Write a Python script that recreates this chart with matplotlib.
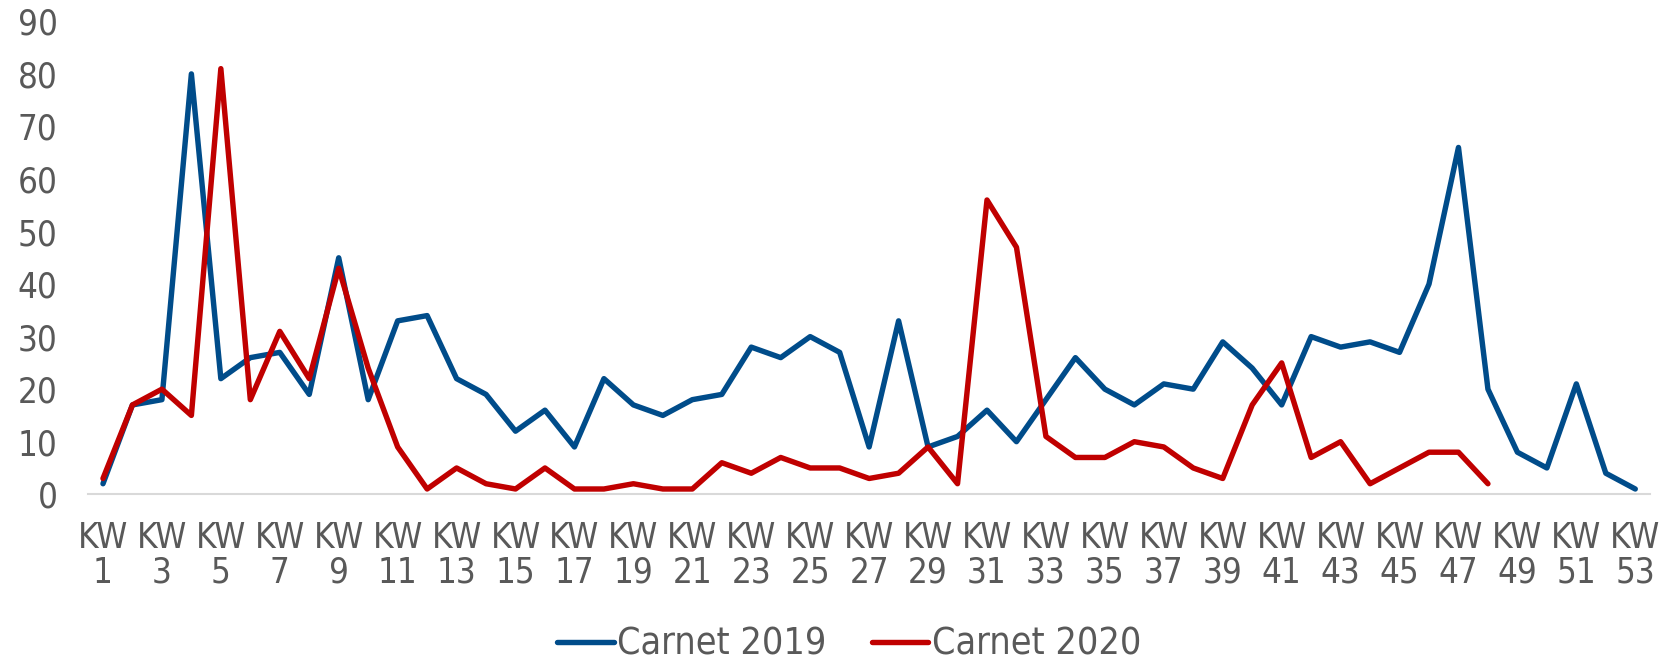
import matplotlib
matplotlib.use('Agg')
import matplotlib.pyplot as plt
import numpy as np

weeks = list(range(1, 54))
carnet_2019 = [2, 17, 18, 80, 22, 26, 27, 19, 45, 18, 33, 34, 22, 19, 12, 16,
               9, 22, 17, 15, 18, 19, 28, 26, 30, 27, 9, 33, 9, 11, 16, 10,
               18, 26, 20, 17, 21, 20, 29, 24, 17, 30, 28, 29, 27, 40, 66, 20,
               8, 5, 21, 4, 1]
carnet_2020 = [3, 17, 20, 15, 81, 18, 31, 22, 43, 24, 9, 1, 5, 2, 1, 5,
               1, 1, 2, 1, 1, 6, 4, 7, 5, 5, 3, 4, 9, 2, 56, 47,
               11, 7, 7, 10, 9, 5, 3, 17, 25, 7, 10, 2, 5, 8, 8, 2]
tick_weeks = weeks[::2]
tick_labels = ["KW\n%d" % w for w in tick_weeks]
y_ticks = list(range(0, 91, 10))

plt.rcParams['font.family'] = ['DejaVu Sans']
plt.rcParams['font.stretch'] = 'condensed'
gray = '#595959'

fig = plt.figure(figsize=(16.65, 6.67), dpi=100)
ax = fig.add_axes([0.053, 0.259, 0.938, 0.709])

ax.plot(weeks, carnet_2019, color='#004C8A', lw=3.9, label='Carnet 2019',
        solid_joinstyle='round', solid_capstyle='round')
ax.plot(weeks[:len(carnet_2020)], carnet_2020, color='#C00000', lw=3.9,
        label='Carnet 2020', solid_joinstyle='round', solid_capstyle='round')

ax.set_xlim(0.5, 53.5)
ax.set_ylim(0, 90)
ax.set_xticks(tick_weeks)
ax.set_xticklabels(tick_labels, linespacing=1.05)
ax.set_yticks(y_ticks)

for s in ['top', 'right', 'left']:
    ax.spines[s].set_visible(False)
ax.spines['bottom'].set_color('#D9D9D9')
ax.spines['bottom'].set_linewidth(1.5)

ax.tick_params(axis='both', length=0, labelsize=25, labelcolor=gray)
ax.tick_params(axis='y', pad=22)
ax.tick_params(axis='x', pad=19)

leg = fig.legend(loc='center', bbox_to_anchor=(0.51, 0.033), ncol=2,
                 frameon=False, fontsize=27, handlelength=1.5,
                 handletextpad=0.1, columnspacing=1.2)
for t in leg.get_texts():
    t.set_color(gray)

fig.savefig('out.png', dpi=100)
